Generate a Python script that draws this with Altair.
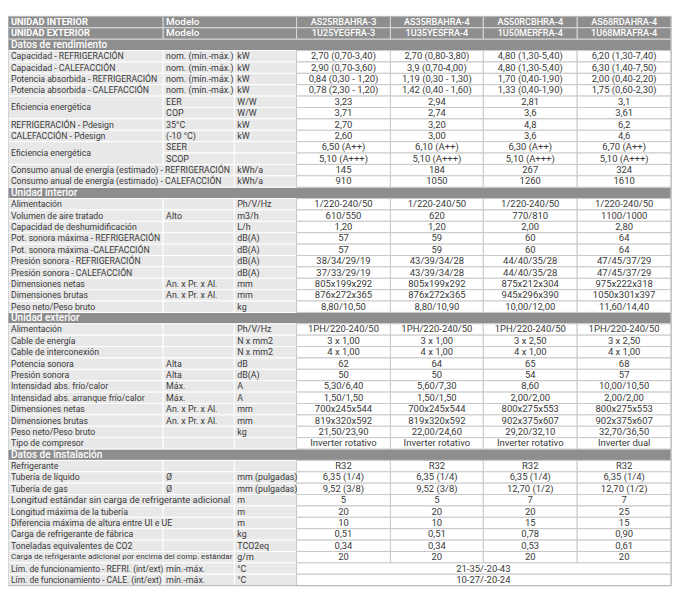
import altair as alt
import pandas as pd

# ---------------- data ----------------
models_int = ["AS25RBAHRA-3", "AS35RBAHRA-4", "AS50RCBHRA-4", "AS68RDAHRA-4"]
models_ext = ["1U25YEGFRA-3", "1U35YESFRA-4", "1U50MERFRA-4", "1U68MRAFRA-4"]

row_kind = (["H", "H", "S"] + ["D"] * 12 + ["S"] + ["D"] * 10 + ["S"] + ["D"] * 11
            + ["S"] + ["D"] * 11)

labels = [
    "UNIDAD INTERIOR", "UNIDAD EXTERIOR", "Datos de rendimiento",
    "Capacidad - REFRIGERACIÓN", "Capacidad - CALEFACCIÓN",
    "Potencia absorbida - REFRIGERACIÓN", "Potencia absorbida - CALEFACCIÓN",
    "Eficiencia energética", "", "REFRIGERACIÓN - Pdesign", "CALEFACCIÓN - Pdesign",
    "Eficiencia energética", "",
    "Consumo anual de energía (estimado) - REFRIGERACIÓN",
    "Consumo anual de energía (estimado) - CALEFACCIÓN",
    "Unidad interior",
    "Alimentación", "Volumen de aire tratado", "Capacidad de deshumidificación",
    "Pot. sonora máxima - REFRIGERACIÓN", "Pot. sonora máxima -CALEFACCIÓN",
    "Presión sonora - REFRIGERACIÓN", "Presión sonora - CALEFACCIÓN",
    "Dimensiones netas", "Dimensiones brutas", "Peso neto/Peso bruto",
    "Unidad exterior",
    "Alimentación", "Cable de energía", "Cable de interconexión", "Potencia sonora",
    "Presión sonora", "Intensidad abs. frío/calor", "Intensidad abs. arranque frío/calor",
    "Dimensiones netas", "Dimensiones brutas", "Peso neto/Peso bruto", "Tipo de compresor",
    "Datos de instalación",
    "Refrigerante", "Tubería de líquido", "Tubería de gas",
    "Longitud estándar sin carga de refrigerante adicional",
    "Longitud máxima de la tubería", "Diferencia máxima de altura entre UI e UE",
    "Carga de refrigerante de fábrica", "Toneladas equivalentes de CO2",
    "Carga de refrigerante adicional por encima del comp. estándar",
    "Lím. de funcionamiento - REFRI. (int/ext)", "Lím. de funcionamiento - CALE. (int/ext)",
]

subs = [
    "Modelo", "Modelo", "",
    "nom. (mín.-máx.)", "nom. (mín.-máx.)", "nom. (mín.-máx.)", "nom. (mín.-máx.)",
    "EER", "COP", "35°C", "(-10 °C)", "SEER", "SCOP", "", "",
    "",
    "", "Alto", "", "", "", "", "", "An. x Pr. x Al.", "An. x Pr. x Al.", "",
    "",
    "", "", "", "Alta", "Alta", "Máx.", "Máx.", "An. x Pr. x Al.", "An. x Pr. x Al.", "", "",
    "",
    "", "Ø", "Ø", "", "", "", "", "", "", "mín.-máx.", "mín.-máx.",
]

units = [
    "", "", "",
    "kW", "kW", "kW", "kW", "W/W", "W/W", "kW", "kW", "", "", "kWh/a", "kWh/a",
    "",
    "Ph/V/Hz", "m3/h", "L/h", "dB(A)", "dB(A)", "dB(A)", "dB(A)", "mm", "mm", "kg",
    "",
    "Ph/V/Hz", "N x mm2", "N x mm2", "dB", "dB(A)", "A", "A", "mm", "mm", "kg", "",
    "",
    "", "mm (pulgadas)", "mm (pulgadas)", "m", "m", "m", "kg", "TCO2eq", "g/m", "°C", "°C",
]

col_a = [
    models_int[0], models_ext[0], "",
    "2,70 (0,70-3,40)", "2,90 (0,70-3,60)", "0,84 (0,30 - 1,20)", "0,78 (2,30 - 1,20)",
    "3,23", "3,71", "2,70", "2,60", "6,50 (A++)", "5,10 (A+++)", "145", "910",
    "",
    "1/220-240/50", "610/550", "1,20", "57", "57", "38/34/29/19", "37/33/29/19",
    "805x199x292", "876x272x365", "8,80/10,50",
    "",
    "1PH/220-240/50", "3 x 1,00", "4 x 1,00", "62", "50", "5,30/6,40", "1,50/1,50",
    "700x245x544", "819x320x592", "21,50/23,90", "Inverter rotativo",
    "",
    "R32", "6,35 (1/4)", "9,52 (3/8)", "5", "20", "10", "0,51", "0,34", "20", "", "",
]
col_b = [
    models_int[1], models_ext[1], "",
    "2,70 (0,80-3,80)", "3,9 (0,70-4,00)", "1,19 (0,30 - 1,30)", "1,42 (0,40 - 1,60)",
    "2,94", "2,74", "3,20", "3,00", "6,10 (A++)", "5,10 (A+++)", "184", "1050",
    "",
    "1/220-240/50", "620", "1,20", "59", "59", "43/39/34/28", "43/39/34/28",
    "805x199x292", "876x272x365", "8,80/10,90",
    "",
    "1PH/220-240/50", "3 x 1,00", "4 x 1,00", "64", "50", "5,60/7,30", "1,50/1,50",
    "700x245x544", "819x320x592", "22,00/24,60", "Inverter rotativo",
    "",
    "R32", "6,35 (1/4)", "9,52 (3/8)", "5", "20", "10", "0,51", "0,34", "20", "", "",
]
col_c = [
    models_int[2], models_ext[2], "",
    "4,80 (1,30-5,40)", "4,80 (1,30-5,40)", "1,70 (0,40-1,90)", "1,33 (0,40-1,90)",
    "2,81", "3,6", "4,8", "3,6", "6,30 (A++)", "5,10 (A+++)", "267", "1260",
    "",
    "1/220-240/50", "770/810", "2,00", "60", "60", "44/40/35/28", "44/40/35/28",
    "875x212x304", "945x296x390", "10,00/12,00",
    "",
    "1PH/220-240/50", "3 x 2,50", "4 x 1,00", "65", "54", "8,60", "2,00/2,00",
    "800x275x553", "902x375x607", "29,20/32,10", "Inverter rotativo",
    "",
    "R32", "6,35 (1/4)", "12,70 (1/2)", "7", "20", "15", "0,78", "0,53", "20", "", "",
]
col_d = [
    models_int[3], models_ext[3], "",
    "6,20 (1,30-7,40)", "6,30 (1,40-7,50)", "2,00 (0,40-2,20)", "1,75 (0,60-2,30)",
    "3,1", "3,61", "6,2", "4,6", "6,70 (A++)", "5,10 (A+++)", "324", "1610",
    "",
    "1/220-240/50", "1100/1000", "2,80", "64", "64", "47/45/37/29", "47/45/37/29",
    "975x222x318", "1050x301x397", "11,60/14,40",
    "",
    "1PH/220-240/50", "3 x 2,50", "4 x 1,00", "68", "57", "10,00/10,50", "2,00/2,00",
    "800x275x553", "902x375x607", "32,70/36,50", "Inverter dual",
    "",
    "R32", "6,35 (1/4)", "12,70 (1/2)", "7", "25", "15", "0,90", "0,61", "20", "", "",
]
merged_values = {48: "21-35/-20-43", 49: "10-27/-20-24"}

label_vmerge = {7: 2, 11: 2}          # label cell spanning two rows
label_vcont = {8, 12}
label_wide = {13, 14, 42, 47}         # label spanning the sub column
label_size = {42: 9.5, 44: 8.9, 47: 8.1, 48: 8.6, 49: 8.6}   # per-row label font overrides

# ---------------- layout / style ----------------
TXT = "#3a3a3a"
HDR = "#8e8e8e"
LBL = "#e8e8e8"
GRID = "#c8c8c8"
FS_LABEL = 8.8
FS_SUB = 9.0
FS_VALUE = 9.6

cells = []


def add(c0, c1, r0, r1, text, kind, align, fs, weight="normal"):
    cells.append(dict(c0=c0, c1=c1, r0=r0, r1=r1, text=text, kind=kind,
                      align=align, fs=fs, weight=weight,
                      tx=c0 if align == "left" else (c0 + c1) / 2,
                      ty=(r0 + r1) / 2))


for i, kind in enumerate(row_kind):
    if kind == "S":
        add(0, 7, i, i + 1, labels[i], "S", "left", 10.2, "medium")
    elif kind == "H":
        add(0, 1, i, i + 1, labels[i], "H", "left", 9.4, "bold")
        add(1, 3, i, i + 1, subs[i], "H", "left", 10.0, "medium")
        for j, col in enumerate([col_a, col_b, col_c, col_d]):
            add(3 + j, 4 + j, i, i + 1, col[i], "H", "center", 9.2, "medium")
    else:
        if i in label_vmerge:
            add(0, 1, i, i + label_vmerge[i], labels[i], "L", "left", FS_LABEL)
        elif i in label_vcont:
            pass
        elif i in label_wide:
            add(0, 2, i, i + 1, labels[i], "L", "left", label_size.get(i, FS_LABEL))
        else:
            add(0, 1, i, i + 1, labels[i], "L", "left", label_size.get(i, FS_LABEL))
        if i not in label_wide:
            add(1, 2, i, i + 1, subs[i], "L", "left", FS_SUB)
        add(2, 3, i, i + 1, units[i], "L", "left", FS_SUB)
        if i in merged_values:
            add(3, 7, i, i + 1, merged_values[i], "V", "center", FS_VALUE)
        else:
            for j, col in enumerate([col_a, col_b, col_c, col_d]):
                add(3 + j, 4 + j, i, i + 1, col[i], "V", "center", FS_VALUE)

df = pd.DataFrame(cells)
fill_map = {"H": HDR, "S": HDR, "L": LBL, "V": "#ffffff"}
stroke_map = {"H": "#d9d9d9", "S": "#d9d9d9", "L": "#ffffff", "V": GRID}
tcol_map = {"H": "#ffffff", "S": "#ffffff", "L": TXT, "V": TXT}
order_map = {"H": 0, "S": 0, "L": 1, "V": 2}
df["fill"] = df["kind"].map(fill_map)
df["stroke"] = df["kind"].map(stroke_map)
df["tcol"] = df["kind"].map(tcol_map)
df["ord"] = df["kind"].map(order_map)
df = df.sort_values("ord", kind="stable")

n_rows = len(row_kind)
xs = alt.Scale(domain=[0, 1, 2, 3, 4, 5, 6, 7],
               range=[0, 157, 229, 292, 387, 481, 576, 671], nice=False, zero=False)
ys = alt.Scale(domain=[0, n_rows], range=[0, 576], nice=False, zero=False)

base = alt.Chart(df)

rects = base.mark_rect(strokeWidth=1).encode(
    x=alt.X("c0:Q", scale=xs, axis=None),
    x2="c1:Q",
    y=alt.Y("r0:Q", scale=ys, axis=None),
    y2="r1:Q",
    fill=alt.Fill("fill:N", scale=None),
    stroke=alt.Stroke("stroke:N", scale=None),
    order="ord:Q",
)

outline = alt.Chart(pd.DataFrame({"a": [0], "b": [7], "r0": [0], "r1": [n_rows]})).mark_rect(
    fill=None, stroke="#b5b5b5", strokeWidth=1
).encode(x=alt.X("a:Q", scale=xs), x2="b:Q", y=alt.Y("r0:Q", scale=ys), y2="r1:Q")

weights = {"normal": "normal", "bold": "bold", "medium": 500}


def text_layer(align, weight, dx):
    return base.transform_filter(
        (alt.datum.align == align) & (alt.datum.weight == weight)
    ).mark_text(align=align, baseline="middle", font="Roboto",
                fontWeight=weights[weight], dx=dx).encode(
        x=alt.X("tx:Q", scale=xs),
        y=alt.Y("ty:Q", scale=ys),
        text="text:N",
        color=alt.Color("tcol:N", scale=None),
        size=alt.Size("fs:Q", scale=None),
    )


layers = [rects, outline,
          text_layer("left", "normal", 3),
          text_layer("center", "normal", 0),
          text_layer("left", "bold", 3),
          text_layer("left", "medium", 3),
          text_layer("center", "medium", 0)]

chart = alt.layer(*layers).properties(
    width=671, height=576,
    autosize=alt.AutoSizeParams(type="none"),
    padding={"left": 0, "top": 5, "right": 7, "bottom": 10},
    background="#ffffff",
).configure_view(stroke=None)

chart.save("out.html", embed_options={"renderer": "svg", "actions": False})
